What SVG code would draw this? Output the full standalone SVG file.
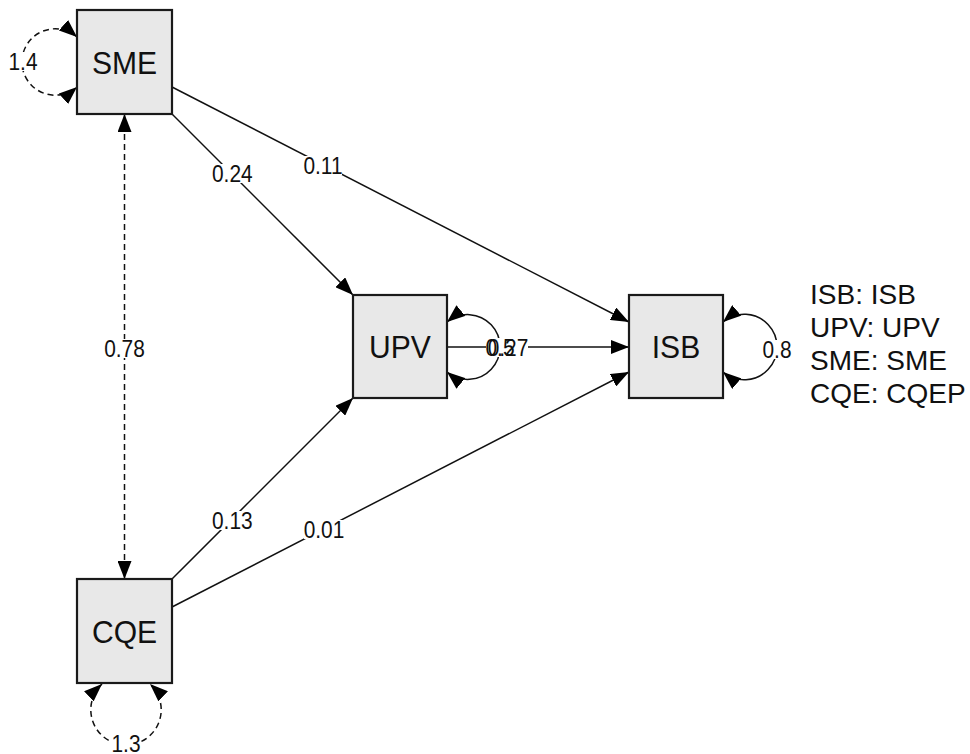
<svg xmlns="http://www.w3.org/2000/svg" width="970" height="754" viewBox="0 0 970 754">
<style>
.box{fill:#e8e8e8;stroke:#1a1a1a;stroke-width:2.2}
.nt{font-family:"Liberation Sans",Arial,sans-serif;font-size:32px;fill:#111;text-anchor:middle}
.e{fill:none;stroke:#111;stroke-width:1.5}
.d{stroke-dasharray:6,4}
.lb{fill:#fff}
.lt{font-family:"Liberation Sans",Arial,sans-serif;font-size:24px;fill:#111;text-anchor:middle}
.lg{font-family:"Liberation Sans",Arial,sans-serif;font-size:28px;fill:#111}
</style>
<defs>
<marker id="ar" viewBox="0 0 18 14" refX="18" refY="7" markerWidth="18" markerHeight="14" markerUnits="userSpaceOnUse" orient="auto-start-reverse">
<path d="M0,0 L18,7 L0,14 z" fill="#000"/>
</marker>
</defs>
<rect width="970" height="754" fill="#fff"/>
<g id="connectors">
<line class="e" x1="172" y1="114" x2="353" y2="295" marker-end="url(#ar)"/>
<line class="e" x1="172" y1="87" x2="629" y2="322" marker-end="url(#ar)"/>
<line class="e" x1="447" y1="347" x2="629" y2="347" marker-end="url(#ar)"/>
<line class="e" x1="172" y1="579" x2="353" y2="398" marker-end="url(#ar)"/>
<line class="e" x1="172" y1="607" x2="629" y2="372" marker-end="url(#ar)"/>
<line class="e d" x1="124.5" y1="114" x2="124.5" y2="579" marker-start="url(#ar)" marker-end="url(#ar)"/>
<path class="e d" d="M77,37 A33.2,33.2 0 1 0 77,87" marker-start="url(#ar)" marker-end="url(#ar)"/>
<path class="e d" d="M102,684 A35.2,35.2 0 1 0 150,684" marker-start="url(#ar)" marker-end="url(#ar)"/>
<path class="e" d="M447,322 A32.4,32.4 0 1 1 447,372" marker-start="url(#ar)" marker-end="url(#ar)"/>
<path class="e" d="M723,322 A32.8,32.8 0 1 1 723,372" marker-start="url(#ar)" marker-end="url(#ar)"/>
<rect class="lb" x="211" y="164" width="42" height="19"/>
<rect class="lb" x="304" y="156" width="38" height="19"/>
<rect class="lb" x="103" y="339" width="42" height="19"/>
<rect class="lb" x="211" y="511" width="42" height="19"/>
<rect class="lb" x="304" y="520" width="40" height="19"/>
<rect class="lb" x="9" y="52" width="28" height="19"/>
<rect class="lb" x="111" y="735" width="30" height="19"/>
<rect class="lb" x="486" y="338" width="42" height="19"/>
<rect class="lb" x="763" y="340" width="28" height="19"/>
<text class="lt" transform="translate(232.3,182) scale(0.87,1)">0.24</text>
<text class="lt" transform="translate(323,174) scale(0.87,1)">0.11</text>
<text class="lt" transform="translate(124.5,357) scale(0.87,1)">0.78</text>
<text class="lt" transform="translate(232.3,529) scale(0.87,1)">0.13</text>
<text class="lt" transform="translate(324,538) scale(0.87,1)">0.01</text>
<text class="lt" transform="translate(23,70) scale(0.87,1)">1.4</text>
<text class="lt" transform="translate(126,752) scale(0.87,1)">1.3</text>
<text class="lt" transform="translate(500,356) scale(0.87,1)">0.5</text>
<text class="lt" transform="translate(508,356) scale(0.87,1)">0.27</text>
<text class="lt" transform="translate(777,358) scale(0.87,1)">0.8</text>
</g>
<g id="SME"><rect class="box" x="77" y="10" width="95" height="104"/><text class="nt" transform="translate(124.5,74) scale(0.94,1)">SME</text></g>
<g id="UPV"><rect class="box" x="353" y="295" width="94" height="103"/><text class="nt" transform="translate(400,358) scale(0.94,1)">UPV</text></g>
<g id="ISB"><rect class="box" x="629" y="295" width="94" height="103"/><text class="nt" transform="translate(676,358) scale(0.94,1)">ISB</text></g>
<g id="CQE"><rect class="box" x="77" y="579" width="95" height="104"/><text class="nt" transform="translate(124.5,643) scale(0.94,1)">CQE</text></g>
<g id="legend">
<text class="lg" x="810" y="304">ISB: ISB</text>
<text class="lg" x="810" y="337">UPV: UPV</text>
<text class="lg" x="810" y="370">SME: SME</text>
<text class="lg" x="810" y="403">CQE: CQEP</text>
</g>
</svg>
